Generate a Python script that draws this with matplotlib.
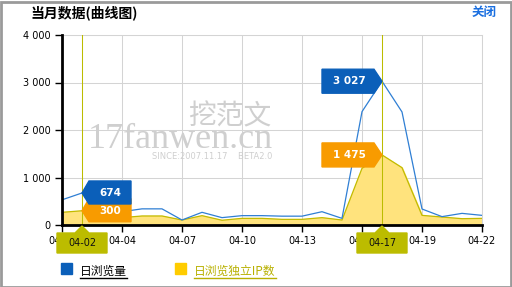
import numpy as np
import matplotlib
matplotlib.use("Agg")
import matplotlib.pyplot as plt
import matplotlib.transforms as mtransforms
from matplotlib.patches import Polygon, Rectangle
from matplotlib.lines import Line2D

plt.rcParams['font.family'] = ['DejaVu Sans', 'Noto Sans CJK SC']

# data
days = list(range(1, 23))
views = [530, 674, 300, 280, 340, 340, 105, 267, 155, 197, 197, 186, 186, 280, 140,
         2386, 3027, 2380, 337, 176, 245, 203]
ips = [267, 300, 230, 155, 190, 190, 105, 197, 100, 140, 140, 119, 119, 155, 105,
       1193, 1475, 1207, 203, 168, 133, 140]
tick_days = [1, 4, 7, 10, 13, 16, 19, 22]
tick_labels = ['04-01', '04-04', '04-07', '04-10', '04-13', '04-16', '04-19', '04-22']
y_ticks = [0, 1000, 2000, 3000, 4000]
hi_days = [2, 17]
hi_labels = ['04-02', '04-17']
legend_labels = ['日浏览量', '日浏览独立IP数']

BLUE_LINE = '#2f7fd4'
BLUE_BOX = '#0b5fb9'
ORANGE = '#f89b00'
FILL = '#ffe37d'
EDGE = '#c2bb00'
OLIVE = '#bcbc00'

W, H = 512, 287
fig = plt.figure(figsize=(W / 100, H / 100), dpi=100)
fig.patch.set_facecolor('white')
ax = fig.add_axes([62 / W, (H - 225) / H, 420 / W, 190 / H])

ax.fill_between(days, ips, 0, color=FILL, zorder=2)
ax.plot(days, ips, color=EDGE, lw=0.9, zorder=3)
ax.plot(days, views, color=BLUE_LINE, lw=0.9, zorder=4)

ax.set_xlim(1, 22)
ax.set_ylim(0, 4000)
ax.set_xticks(tick_days)
ax.set_xticklabels(tick_labels, fontsize=7)
ax.set_yticks(y_ticks)
ax.set_yticklabels([f'{v:,}'.replace(',', ' ') for v in y_ticks], fontsize=7)
ax.tick_params(axis='both', length=5, width=1, color='black', pad=3)
ax.grid(True, color='#d4d4d4', lw=0.75, zorder=0)
ax.set_axisbelow(True)
for s in ['top', 'right']:
    ax.spines[s].set_color('#d4d4d4')
    ax.spines[s].set_linewidth(0.75)
for s in ['left', 'bottom']:
    ax.spines[s].set_color('black')
    ax.spines[s].set_linewidth(2)
    ax.spines[s].set_zorder(6)

for d in hi_days:
    ax.axvline(d, color=OLIVE, lw=0.75, zorder=5)

# watermark
ax.text(0.062, 0.405, '17fanwen.cn', transform=ax.transAxes, fontsize=26,
        family='Liberation Serif', color='#cfcfcf', va='baseline', ha='left', zorder=1)
ax.text(0.399, 0.571, '挖范文', transform=ax.transAxes, fontsize=20, fontweight='light',
        family='Noto Sans CJK SC', color='#cfcfcf', va='center', ha='center', zorder=1)
ax.text(0.358, 0.362, 'SINCE:2007.11.17    BETA2.0', transform=ax.transAxes, fontsize=6,
        color='#cfcfcf', va='center', ha='center', zorder=1)


def pix_trans(x, y):
    return (mtransforms.Affine2D().scale(1 / 100) + fig.dpi_scale_trans
            + mtransforms.ScaledTranslation(x, y, ax.transData))


def flag(x, y, text, color, side):
    if side == 'left':
        verts = [(0, 0), (7, 12), (49, 12), (49, -11), (7, -11)]
        tx = 28
    else:
        verts = [(0, 0), (-8, 12), (-60, 12), (-60, -12), (-8, -12)]
        tx = -33
    ax.add_patch(Polygon(verts, closed=True, color=color, transform=pix_trans(x, y),
                         clip_on=False, zorder=8))
    ax.annotate(text, xy=(x, y), xytext=(tx, 0), textcoords='offset pixels',
                ha='center', va='center', color='white', fontsize=7.5,
                fontweight='bold', zorder=9, annotation_clip=False)


i = days.index(hi_days[0])
flag(days[i], ips[i], f'{ips[i]:,}'.replace(',', ' '), ORANGE, 'left')
flag(days[i], views[i], f'{views[i]:,}'.replace(',', ' '), BLUE_BOX, 'left')
i = days.index(hi_days[1])
flag(days[i], ips[i], f'{ips[i]:,}'.replace(',', ' '), ORANGE, 'right')
flag(days[i], views[i], f'{views[i]:,}'.replace(',', ' '), BLUE_BOX, 'right')

# highlighted x labels
for d, lab in zip(hi_days, hi_labels):
    tr = pix_trans(d, 0)
    ax.add_patch(Polygon([(-25, -8), (-7, -8), (0, -1), (7, -8), (25, -8), (25, -28), (-25, -28)],
                         closed=True, color=OLIVE, transform=tr, clip_on=False, zorder=8))
    ax.annotate(lab, xy=(d, 0), xytext=(0, -18), textcoords='offset pixels',
                ha='center', va='center', fontsize=7, color='#111111', zorder=9,
                annotation_clip=False)

# title
fig.text(31 / W, 1 - 13 / H, '当月数据(曲线图)', fontsize=10, fontweight='bold',
         family='Noto Sans CJK SC', va='center', ha='left')
fig.text(497 / W, 1 - 12 / H, '关闭', fontsize=9, fontweight='bold', color='#1a6fe0',
         family='Noto Sans CJK SC', va='center', ha='right')

# legend
leg_colors = [BLUE_BOX, '#ffcc00']
leg_text_colors = ['black', '#b8b000']
leg_x = [61, 175]
for c, tc, x0, lab in zip(leg_colors, leg_text_colors, leg_x, legend_labels):
    fig.add_artist(Rectangle((x0 / W, 1 - 274 / H), 11 / W, 11 / H, color=c,
                             transform=fig.transFigure))
    t = fig.text((x0 + 19) / W, 1 - 271 / H, lab, fontsize=8.5, color=tc,
                 family='Noto Sans CJK SC', va='center', ha='left')
    fig.canvas.draw()
    bb = t.get_window_extent()
    fig.add_artist(Line2D([bb.x0 / W, bb.x1 / W], [(H - 277.5) / H, (H - 277.5) / H],
                          color=tc, lw=1, transform=fig.transFigure))

# border
fig.add_artist(Rectangle((0.5 / W, 0.5 / H), (W - 2) / W, (H - 2) / H, fill=False,
                         ec='#9a9a9a', lw=2, transform=fig.transFigure))

fig.savefig('out.png', dpi=100)
